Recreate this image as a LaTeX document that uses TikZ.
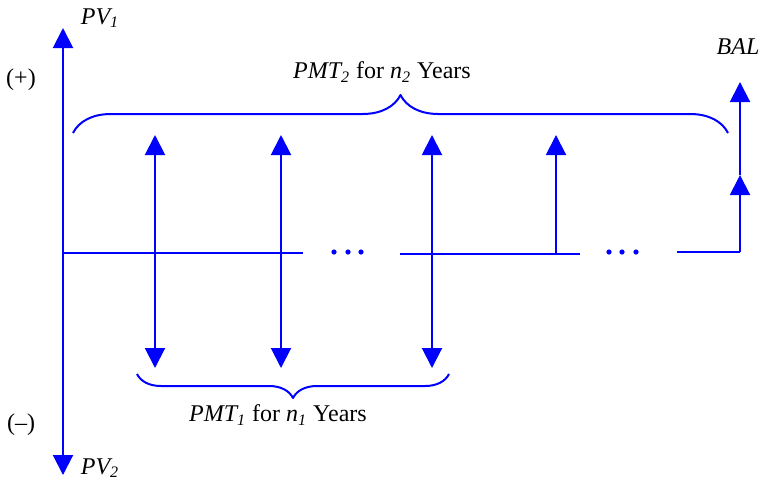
\documentclass[tikz,border=0pt]{standalone}
\usepackage{fontspec}
\setmainfont{Liberation Serif}
\usetikzlibrary{arrows.meta,decorations.pathreplacing}
\begin{document}
\begin{tikzpicture}[x=0.5pt,y=-0.5pt,line join=round,line width=1pt,blue,
	>={Triangle[length=10pt,width=10pt]},
	lbl/.style={text=black,font=\fontsize{12}{14}\selectfont,inner sep=1pt}]
		%==thông số
		\def\top{135}
		\def\bot{368}
		\def\yt{253}
		%==============
		\useasboundingbox (0,0) rectangle (763,483);
		\coordinate (PVtop) at (63,28);
		\coordinate (PVbot) at (63,475);
		\draw[<->] (PVbot)--(PVtop);
		%==trục thời gian
		\coordinate (A) at (63,\yt);
		\coordinate (B) at (303,\yt);
		\coordinate (C) at (400,254);
		\coordinate (D) at (580,254);
		\coordinate (E) at (677,252);
		\coordinate (F) at (740,252);
		\draw (A)--(B);
		\draw (C)--(D);
		\draw (E)--(F);
		\foreach \x in {334,348,361,609,622,636}
			\fill (\x,252) circle (1.3pt);
		%==PMT
		\foreach \x in {155,281,432}
			\draw[<->] (\x,\bot)--(\x,\top);
		\draw[->] (556,254)coordinate(G)--(556,\top)coordinate(G1);
		%==BAL
		\coordinate (H) at (740,175);
		\coordinate (H1) at (740,82);
		\draw[->] (F)--(H);
		\draw[->] (H)--(H1);
		%==ngoặc
		\draw[decorate,decoration={brace,amplitude=19pt}] (73,133)--(728,133);
		\draw[decorate,decoration={brace,amplitude=12pt}] (449,374)--(137,374);
		%==nhãn
		\node[lbl] (pv1) at (100,18) {\textit{PV\textsubscript{1}}};
		\node[lbl] (pv2) at (100,468) {\textit{PV\textsubscript{2}}};
		\node[lbl] (plus) at (21,80) {(+)};
		\node[lbl] (minus) at (21,425) {(–)};
		\node[lbl] (bal) at (738,47) {\textit{BAL}};
		\node[lbl] (pmt2) at (382,72) {\textit{PMT\textsubscript{2}} for \textit{n\textsubscript{2}} Years};
		\node[lbl] (pmt1) at (278,415) {\textit{PMT\textsubscript{1}} for \textit{n\textsubscript{1}} Years};
\end{tikzpicture}
\end{document}
